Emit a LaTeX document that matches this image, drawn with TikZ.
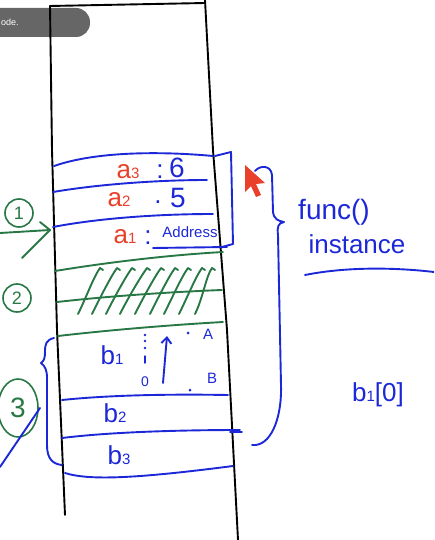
\documentclass[tikz,border=0pt]{standalone}
\usepackage{fontspec}
\setmainfont{Liberation Sans}
\usetikzlibrary{shapes.geometric,arrows.meta}
\definecolor{penblue}{RGB}{28,40,215}
\definecolor{penred}{RGB}{232,64,42}
\definecolor{pengreen}{RGB}{40,120,70}
\definecolor{pillgray}{RGB}{102,102,102}
\newcommand\subidx[1]{{\fontsize{15}{15}\selectfont #1}}
\begin{document}
\begin{tikzpicture}[x=1pt,y=-1pt,
  ink/.style={line width=1.9pt,line cap=round,line join=round},
  bl/.style={ink,draw=penblue},
  gr/.style={ink,draw=pengreen},
  bk/.style={ink,draw=black},
  lbl/.style={inner sep=0pt,font=\fontsize{26}{26}\selectfont},
  redl/.style={lbl,text=penred},
  bluel/.style={lbl,text=penblue},
  greenl/.style={lbl,text=pengreen},
]
\useasboundingbox (0,0) rectangle (434,540);
\begin{scope}
\clip (0,0) rectangle (434,540);
% top-left pill
\fill[pillgray,rounded corners=14pt] (-40,8) rectangle (90,37);
\node[inner sep=0pt,anchor=west,text=white,font=\fontsize{9}{9}\selectfont] (pill) at (1,22) {ode.};
% stack outline
\draw[bk] (50,6) -- (52,150) -- (57,330) -- (65,515);
\draw[bk] (50,6) -- (205,3);
\draw[bk] (205,0) -- (213,150) -- (227,330) -- (238,540);
% a-frame lines
\draw[bl] (54,166) .. controls (100,150) and (170,152) .. (213,156);
\draw[bl] (53,192) .. controls (100,184) and (160,180) .. (207,180);
\draw[bl] (53,227) .. controls (100,218) and (160,214) .. (213,214);
\draw[bl] (153,248) -- (227,247);
\draw[bl] (215,156) -- (231,152) -- (233,244) -- (222,247);
% a labels
\node[redl] (a3) at (128,172) {a\subidx{3}};
\node[bluel] (a3c) at (160,172) {:};
\node[bluel,font=\fontsize{28}{28}\selectfont] (a3v) at (177,168) {6};
\node[redl] (a2) at (119,200) {a\subidx{2}};
\node[bluel] (a2c) at (158,202) {.};
\node[bluel,font=\fontsize{28}{28}\selectfont] (a2v) at (178,198) {5};
\node[redl] (a1) at (125,237) {a\subidx{1}};
\node[bluel] (a1c) at (148,238) {:};
\node[inner sep=0pt,text=penblue,font=\fontsize{15}{15}\selectfont] (addr) at (190,232) {Address};
% red cursor
\fill[penred] (245,165) -- (245,192) -- (251,186) -- (256,197) -- (261,195) -- (256,184) -- (265,183) -- cycle;
% big brace
\draw[bl] (255,171) .. controls (260,165) and (271,165) .. (272,175)
  -- (273,212) .. controls (274,219) and (278,221) .. (284,222)
  .. controls (278,223) and (277,227) .. (278,235)
  -- (281,385) .. controls (282,420) and (270,447) .. (252,445);
\draw[bl] (230,432) -- (242,432);
\node[bluel,font=\fontsize{28}{28}\selectfont] (func) at (334,212) {func()};
\node[bluel,font=\fontsize{26}{26}\selectfont] (inst) at (357,244) {instance};
\draw[bl] (305,275) .. controls (350,266) and (400,268) .. (434,272);
\node[bluel] (bzero) at (378,395) {b\subidx{1}[0]};
% green markers
\node[draw=pengreen,line width=1.6pt,circle,minimum size=28pt,inner sep=0pt,text=pengreen,font=\fontsize{18}{18}\selectfont] (one) at (19,213) {1};
\coordinate (arrS) at (0,233);
\coordinate (arrE) at (50,230);
\draw[gr] (arrS) -- (arrE);
\draw[gr] (40,222) -- (arrE) -- (22,258);
\node[draw=pengreen,line width=1.6pt,circle,minimum size=28pt,inner sep=0pt,text=pengreen,font=\fontsize{18}{18}\selectfont] (two) at (17,298) {2};
\node[draw=pengreen,line width=1.6pt,ellipse,minimum width=40pt,minimum height=58pt,inner sep=0pt,text=pengreen,font=\fontsize{28}{28}\selectfont] (three) at (18,408) {3};
% green lines and hatch
\draw[gr] (55,271) .. controls (110,262) and (170,255) .. (223,252);
\draw[gr] (57,302) .. controls (110,296) and (170,292) .. (222,290);
\draw[gr] (58,336) .. controls (110,330) and (170,325) .. (223,322);
\foreach \bx/\tx in {78/100,92/117,106/132,120/147,135/161,150/175,164/188,179/202,195/212}
  \draw[gr] (\bx,314) .. controls (\bx+8,298) and (\tx-6,276) .. (\tx,268) -- (\tx+3,270);
% left brace
\draw[bl] (54,338) .. controls (46,340) and (45,344) .. (45,352)
  .. controls (45,358) and (44,361) .. (41,363)
  .. controls (45,366) and (47,370) .. (47,378)
  -- (47,445) .. controls (47,458) and (52,464) .. (62,465);
\draw[bl] (0,467) -- (40,408);
% b lines
\draw[bl] (62,400) .. controls (110,395) and (170,394) .. (228,395);
\draw[bl] (62,438) .. controls (110,432) and (180,430) .. (240,430);
\draw[bl] (65,473) .. controls (90,481) and (140,478) .. (233,466);
% b labels
\node[bluel] (b1) at (112,355) {b\subidx{1}};
\node[bluel] (b2) at (115,413) {b\subidx{2}};
\node[bluel] (b3) at (119,455) {b\subidx{3}};
% dots and arrow in b1
\foreach \yy in {335,341,348} \fill[penblue] (145,\yy) circle (1.3pt);
\draw[bl,line width=1.5pt] (145,356) -- (145,363);
\node[bluel,font=\fontsize{14}{14}\selectfont] (zero) at (145,382) {0};
\coordinate (upS) at (163,383);
\coordinate (upE) at (167,336);
\draw[bl,-{Straight Barb[length=6pt,width=10pt]}] (upS) -- (upE);
\fill[penblue] (188,333) circle (1.5pt);
\node[bluel,font=\fontsize{15}{15}\selectfont] (A) at (208,334) {A};
\fill[penblue] (190,390) circle (1.5pt);
\node[bluel,font=\fontsize{15}{15}\selectfont] (B) at (212,378) {B};
\end{scope}
\end{tikzpicture}
\end{document}
